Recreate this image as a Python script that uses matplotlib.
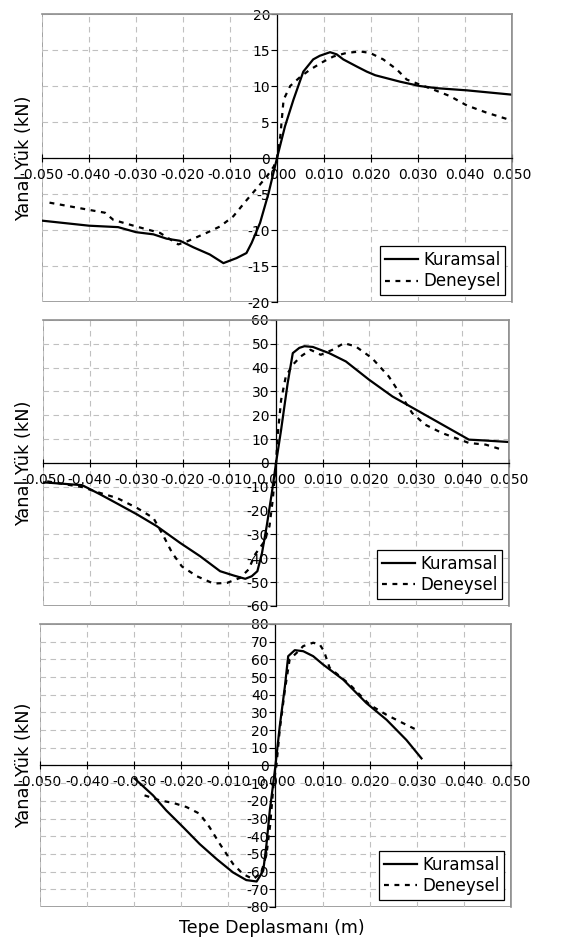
import numpy as np
import matplotlib.pyplot as plt
from matplotlib.patches import Rectangle

# Panel 1
k1_x = [-0.050, -0.040, -0.0338, -0.030, -0.0263, -0.0235, -0.0206, -0.0178, -0.0143, -0.0114,
        -0.0086, -0.0065, -0.0054, -0.0036, -0.0018, 0.0, 0.0017, 0.0035, 0.0056, 0.0077,
        0.0091, 0.0113, 0.0127, 0.0141, 0.0170, 0.0191, 0.0209, 0.0262, 0.0304, 0.0340, 0.0404, 0.050]
k1_y = [-8.7, -9.4, -9.6, -10.3, -10.6, -11.2, -11.5, -12.4, -13.4, -14.6,
        -13.9, -13.2, -11.8, -9.0, -4.9, 0.0, 4.4, 8.1, 12.0, 13.7,
        14.2, 14.7, 14.4, 13.7, 12.7, 12.0, 11.5, 10.6, 10.0, 9.7, 9.4, 8.8]
d1_x = [-0.0484, -0.040, -0.0366, -0.0348, -0.030, -0.0249, -0.0210, -0.0192, -0.0150, -0.0121,
        -0.0093, -0.0064, -0.0039, -0.0021, -0.0007, 0.0, 0.0007, 0.0014, 0.0028, 0.0050,
        0.0071, 0.0099, 0.0120, 0.0148, 0.0177, 0.0198, 0.0226, 0.0255, 0.0276, 0.0304,
        0.0333, 0.0368, 0.0404, 0.0446, 0.050]
d1_y = [-6.2, -7.2, -7.6, -8.6, -9.5, -10.4, -12.0, -11.6, -10.4, -9.5,
        -8.1, -5.8, -3.9, -2.5, -1.2, 0.0, 3.0, 8.1, 10.0, 11.3,
        12.3, 13.4, 14.1, 14.6, 14.8, 14.6, 13.7, 12.3, 10.9, 10.2,
        9.5, 8.6, 7.3, 6.3, 5.2]

# Panel 2
k2_x = [-0.050, -0.0416, -0.0377, -0.0341, -0.0298, -0.0256, -0.0206, -0.0163, -0.0120, -0.0091,
        -0.0066, -0.0052, -0.0040, -0.0030, -0.0020, -0.0009, 0.0, 0.0011, 0.0025, 0.0036,
        0.0050, 0.0061, 0.0079, 0.0114, 0.0150, 0.0200, 0.0250, 0.0300, 0.0357, 0.0414, 0.0443, 0.050]
k2_y = [-8.1, -9.3, -13.2, -17.0, -21.6, -26.5, -33.5, -39.1, -45.4, -47.2,
        -48.6, -47.5, -45.4, -37.7, -26.5, -12.6, 0.0, 14.0, 33.5, 46.1,
        48.3, 49.0, 48.7, 46.1, 42.6, 34.9, 27.9, 22.4, 16.1, 9.8, 9.5, 8.8]
d2_x = [-0.0491, -0.0416, -0.0377, -0.0341, -0.0298, -0.0263, -0.0241, -0.0223, -0.0202, -0.0170,
        -0.0134, -0.0105, -0.0077, -0.0059, -0.0045, -0.0027, -0.0014, -0.0007, 0.0, 0.0004,
        0.0011, 0.0021, 0.0036, 0.0053, 0.0074, 0.0096, 0.0121, 0.0146, 0.0171, 0.0206,
        0.0242, 0.0270, 0.0292, 0.0320, 0.0356, 0.0414, 0.0450, 0.0485]
d2_y = [-7.7, -10.1, -12.6, -14.7, -18.9, -23.1, -30.8, -37.7, -43.4, -47.5,
        -50.6, -50.3, -48.2, -44.7, -38.4, -33.5, -26.5, -15.4, 0.0, 12.6,
        26.5, 36.3, 41.2, 44.7, 47.5, 45.4, 47.5, 50.3, 48.9, 44.0,
        36.3, 27.9, 21.0, 16.1, 12.6, 8.4, 7.7, 5.6]

# Panel 3
k3_x = [-0.0299, -0.0260, -0.0232, -0.0196, -0.0161, -0.0125, -0.0090, -0.0062, -0.0040, -0.0026,
        -0.0019, -0.0012, 0.0, 0.0009, 0.0020, 0.0027, 0.0041, 0.0059, 0.0080, 0.0101,
        0.0144, 0.0193, 0.0236, 0.0278, 0.0310]
k3_y = [-7.4, -16.9, -25.4, -34.9, -44.4, -52.9, -60.5, -64.8, -65.6, -59.5,
        -44.4, -25.4, 0.0, 22.0, 44.7, 61.8, 65.2, 64.6, 61.8, 57.1,
        48.5, 35.3, 25.8, 14.4, 4.0]
d3_x = [-0.0278, -0.0246, -0.0217, -0.0189, -0.0161, -0.0140, -0.0118, -0.0090, -0.0069, -0.0047,
        -0.0030, -0.0019, -0.0011, -0.0004, 0.0002, 0.0009, 0.0020, 0.0030, 0.0045, 0.0059,
        0.0080, 0.0094, 0.0103, 0.0115, 0.0158, 0.0200, 0.0236, 0.0271, 0.0300]
d3_y = [-16.9, -19.7, -21.2, -23.5, -27.3, -34.9, -44.4, -55.7, -61.4, -64.3,
        -60.5, -50.0, -33.0, -10.2, 0.0, 20.1, 42.8, 59.9, 63.7, 67.5,
        69.4, 68.4, 64.6, 55.2, 45.7, 34.3, 28.6, 23.9, 20.1]

x_ticks = [-0.05, -0.04, -0.03, -0.02, -0.01, 0.0, 0.01, 0.02, 0.03, 0.04, 0.05]
y_lims = [20, 60, 80]
y_steps = [5, 10, 10]

panels = [
    ([0.0746, 0.6794, 0.8348, 0.3057], k1_x, k1_y, d1_x, d1_y),
    ([0.0764, 0.3567, 0.8277, 0.3036], k2_x, k2_y, d2_x, d2_y),
    ([0.0710, 0.0372, 0.8366, 0.3004], k3_x, k3_y, d3_x, d3_y),
]

fig = plt.figure(figsize=(5.63, 9.42), dpi=100)

for i, (rect, kx, ky, dx, dy) in enumerate(panels):
    ax = fig.add_axes(rect)
    lim = y_lims[i]
    ax.plot(kx, ky, color='black', lw=1.6, label='Kuramsal')
    ax.plot(dx, dy, color='black', lw=1.6, linestyle=(0, (2.2, 2.5)), label='Deneysel')
    ax.set_xlim(-0.05, 0.05)
    ax.set_ylim(-lim, lim)
    ax.set_xticks(x_ticks)
    ax.set_xticklabels(['%.3f' % v for v in x_ticks], fontsize=6.3)
    yt = np.arange(-lim, lim + 1, y_steps[i])
    ax.set_yticks(yt)
    ax.set_yticklabels([str(int(v)) for v in yt], fontsize=10.5)
    ax.grid(True, color='#c0c0c0', linestyle=(0, (5, 4)), lw=0.8)
    ax.set_axisbelow(True)

    ax.spines['left'].set_position(('data', 0))
    ax.spines['bottom'].set_position(('data', 0))
    ax.spines['left'].set_color('black')
    ax.spines['bottom'].set_color('black')
    ax.spines['left'].set_linewidth(0.9)
    ax.spines['bottom'].set_linewidth(0.9)
    for s in ['top', 'right']:
        ax.spines[s].set_color('#909090')
        ax.spines[s].set_linewidth(1.2)
    ax.add_patch(Rectangle((0, 0), 1, 1, transform=ax.transAxes, fill=False,
                           edgecolor='#909090', lw=1.2, zorder=0.5))

    ax.tick_params(axis='x', direction='inout', length=6, width=0.8, pad=4)
    ax.tick_params(axis='y', direction='out', length=4, width=0.8, pad=1)

    leg = ax.legend(loc='lower right', fontsize=12, frameon=True, fancybox=False,
                    edgecolor='black', framealpha=1, handlelength=2.0, handletextpad=0.3,
                    borderpad=0.3, labelspacing=0.2, borderaxespad=0.4)
    leg.get_frame().set_linewidth(0.9)

    fig.text(0.042, rect[1] + rect[3] / 2, 'Yanal Yük (kN)', rotation=90,
             ha='center', va='center', fontsize=12.8)

fig.text(0.482, 0.015, 'Tepe Deplasmanı (m)', ha='center', va='center', fontsize=12.5)

fig.savefig('out.png', dpi=100)
